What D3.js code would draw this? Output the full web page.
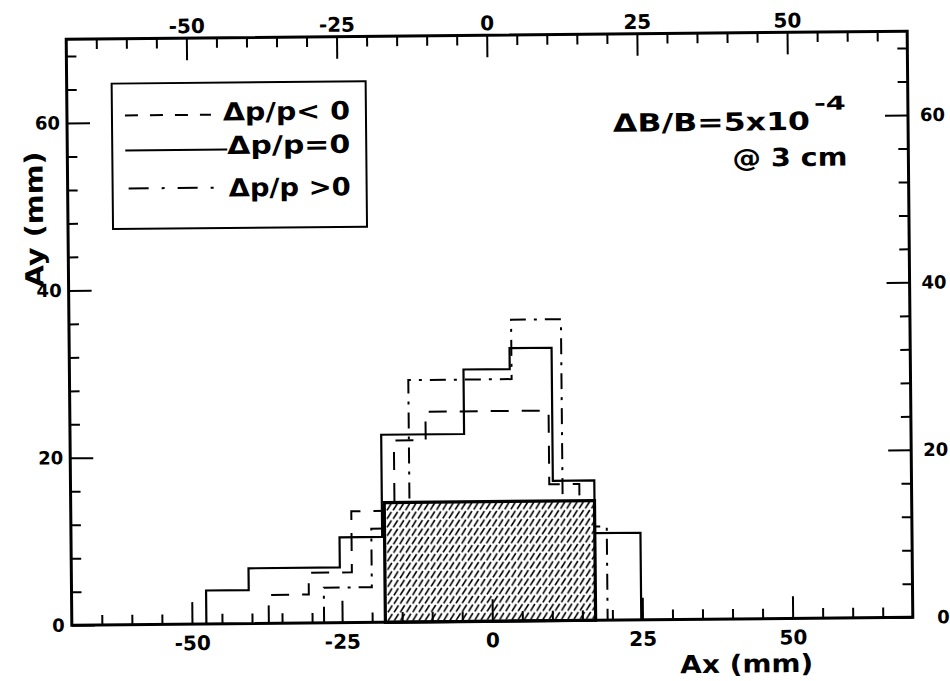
<!DOCTYPE html>
<html>
<head>
<meta charset="utf-8">
<script src="https://cdn.jsdelivr.net/npm/d3@7"></script>
<style>
  html, body { margin: 0; padding: 0; background: #fff; }
  svg { display: block; }
  text { font-family: "DejaVu Sans", "Liberation Sans", sans-serif; font-weight: bold; fill: #000; }
</style>
</head>
<body>
<svg id="chart" width="950" height="681"></svg>
<script>
// ---- data (Ax in mm, Ay in mm) ----
// step histograms: bin edges and the aperture height in each bin
const edgesZero = [-47.6, -40.5, -25.3, -18.2, -4.4, 3.3, 10.3, 17.2, 24.8];
const heightsZero = [4.0, 6.6, 10.2, 22.4, 30.1, 32.6, 16.7, 10.4];

const edgesNeg = [-37.2, -30.5, -23.3, -16.1, -10.8, 9.7, 14.7];
const heightsNeg = [3.4, 6.0, 13.3, 21.7, 25.1, 16.3];

const edgesPos = [-28.0, -20.0, -13.6, 3.6, 11.9, 19.2];
const heightsPos = [4.2, 11.2, 28.9, 36.0, 11.2];

// common (hatched) acceptance region
const commonX = [-17.8, 17.2];
const commonY = 14.3;

// axes
const xDomain = [-70, 70];
const yDomain = [0, 70];
const xMajor = [-50, -25, 0, 25, 50];
const yMajor = [0, 20, 40, 60];

// legend and note texts
const legendLabels = ["\u0394p/p< 0", "\u0394p/p=0", "\u0394p/p >0"];
const noteMain = "\u0394B/B=5x10";
const noteExp = "-4";
const noteSub = "@ 3 cm";

// ---- layout ----
const frame = { left: 69, right: 910, top: 35.25, bottom: 621.25 };
const svg = d3.select("#chart");

const x = d3.scaleLinear().domain(xDomain).range([frame.left, frame.right]);
const y = d3.scaleLinear().domain(yDomain).range([frame.bottom, frame.top]);

const defs = svg.append("defs");
const pat = defs.append("pattern")
  .attr("id", "hatch").attr("patternUnits", "userSpaceOnUse")
  .attr("width", 6.2).attr("height", 8.5);
pat.append("rect").attr("width", 6.2).attr("height", 8.5).attr("fill", "#fff");
pat.append("path").attr("d", "M0.8,7.9 L5.2,0.9")
  .attr("stroke", "#000").attr("stroke-width", 1.6).attr("fill", "none");

// the scanned sheet sits slightly tilted
const root = svg.append("g").attr("transform", "rotate(-0.55 489.5 328)");

const styles = {
  neg:  { width: 2, dash: "18,13" },
  zero: { width: 2.2, dash: null },
  pos:  { width: 2, dash: "16,8,3,8" }
};

function stepPoints(edges, heights) {
  const pts = [[edges[0], 0]];
  heights.forEach((h, i) => { pts.push([edges[i], h]); pts.push([edges[i + 1], h]); });
  pts.push([edges[edges.length - 1], 0]);
  return pts;
}
const line = d3.line().x(d => x(d[0])).y(d => y(d[1]));

const series = [
  { e: edgesNeg, h: heightsNeg, s: styles.neg },
  { e: edgesPos, h: heightsPos, s: styles.pos },
  { e: edgesZero, h: heightsZero, s: styles.zero }
];
root.append("g").selectAll("path").data(series).join("path")
  .attr("d", d => line(stepPoints(d.e, d.h)))
  .attr("fill", "none").attr("stroke", "#000")
  .attr("stroke-width", d => d.s.width)
  .attr("stroke-dasharray", d => d.s.dash)
  .attr("stroke-linejoin", "miter");

// hatched common region
root.append("rect")
  .attr("x", x(commonX[0])).attr("y", y(commonY))
  .attr("width", x(commonX[1]) - x(commonX[0]))
  .attr("height", y(0) - y(commonY))
  .attr("fill", "url(#hatch)").attr("stroke", "#000").attr("stroke-width", 3.2);

// ---- axes ----
const xMinor = d3.range(-65, 70, 5).filter(v => !xMajor.includes(v));
const yMinor = d3.range(4, 70, 4).filter(v => !yMajor.includes(v));
const plain = d => String(d);

function styleAxis(g) {
  g.select(".domain").remove();
  g.selectAll(".tick line").attr("stroke", "#000").attr("stroke-width", 2);
  g.selectAll("text").attr("font-family", null).style("font-size", null);
}

// bottom
root.append("g").attr("transform", `translate(0,${frame.bottom})`)
  .call(d3.axisBottom(x).tickValues(xMinor).tickSize(-10).tickFormat(""))
  .call(styleAxis);
const gB = root.append("g").attr("transform", `translate(0,${frame.bottom})`)
  .call(d3.axisBottom(x).tickValues(xMajor).tickSize(-22).tickFormat(plain))
  .call(styleAxis);
gB.selectAll("text").attr("y", 26).attr("dy", 0).style("font-size", "20px");

// top
root.append("g").attr("transform", `translate(0,${frame.top})`)
  .call(d3.axisTop(x).tickValues(xMinor).tickSize(-10).tickFormat(""))
  .call(styleAxis);
const gT = root.append("g").attr("transform", `translate(0,${frame.top})`)
  .call(d3.axisTop(x).tickValues(xMajor).tickSize(-22).tickFormat(plain))
  .call(styleAxis);
gT.selectAll("text").attr("y", -5).attr("dy", 0).style("font-size", "20px");

// left
root.append("g").attr("transform", `translate(${frame.left},0)`)
  .call(d3.axisLeft(y).tickValues(yMinor).tickSize(-10).tickFormat(""))
  .call(styleAxis);
const gL = root.append("g").attr("transform", `translate(${frame.left},0)`)
  .call(d3.axisLeft(y).tickValues(yMajor).tickSize(-23).tickPadding(7).tickFormat(plain))
  .call(styleAxis);
gL.selectAll("text").style("font-size", "18px");

// right
root.append("g").attr("transform", `translate(${frame.right},0)`)
  .call(d3.axisRight(y).tickValues(yMinor).tickSize(-10).tickFormat(""))
  .call(styleAxis);
const gR = root.append("g").attr("transform", `translate(${frame.right},0)`)
  .call(d3.axisRight(y).tickValues(yMajor).tickSize(-23).tickFormat(plain))
  .call(styleAxis);
gR.selectAll("text").attr("text-anchor", "end").attr("x", 37).style("font-size", "18px");

// frame
root.append("rect")
  .attr("x", frame.left).attr("y", frame.top)
  .attr("width", frame.right - frame.left).attr("height", frame.bottom - frame.top)
  .attr("fill", "none").attr("stroke", "#000").attr("stroke-width", 3);

// axis titles
root.append("text").attr("x", 677).attr("y", 675)
  .attr("textLength", 133).attr("lengthAdjust", "spacingAndGlyphs")
  .style("font-size", "25px").text("Ax (mm)");
root.append("text")
  .attr("transform", "translate(44,215) rotate(-90)")
  .attr("text-anchor", "middle")
  .attr("textLength", 136).attr("lengthAdjust", "spacingAndGlyphs")
  .style("font-size", "25px").text("Ay (mm)");

// ---- legend ----
const leg = root.append("g");
leg.append("rect").attr("x", 114).attr("y", 80).attr("width", 254).attr("height", 145.5)
  .attr("fill", "#fff").attr("stroke", "#000").attr("stroke-width", 2);
const legRows = [
  { y: 112, x0: 127, x1: 213, tx: 225, ty: 118, tl: 127, label: legendLabels[0], dash: "13,12" },
  { y: 147, x0: 127, x1: 229, tx: 229, ty: 151.5, tl: 123, label: legendLabels[1], dash: null },
  { y: 185, x0: 130, x1: 226, tx: 230, ty: 194, tl: 122, label: legendLabels[2], dash: "20,13,3,13" }
];
leg.selectAll("line").data(legRows).join("line")
  .attr("x1", d => d.x0).attr("x2", d => d.x1)
  .attr("y1", d => d.y).attr("y2", d => d.y)
  .attr("stroke", "#000").attr("stroke-width", 2)
  .attr("stroke-dasharray", d => d.dash);
leg.selectAll("text").data(legRows).join("text")
  .attr("x", d => d.tx).attr("y", d => d.ty)
  .attr("textLength", d => d.tl).attr("lengthAdjust", "spacingAndGlyphs")
  .style("font-size", "25px").text(d => d.label);

// ---- field error note ----
root.append("text").attr("x", 615).attr("y", 133)
  .attr("textLength", 197).attr("lengthAdjust", "spacingAndGlyphs")
  .style("font-size", "25px").text(noteMain);
root.append("text").attr("x", 816).attr("y", 113)
  .attr("textLength", 32).attr("lengthAdjust", "spacingAndGlyphs")
  .style("font-size", "19px").text(noteExp);
root.append("text").attr("x", 734).attr("y", 169)
  .attr("textLength", 115).attr("lengthAdjust", "spacingAndGlyphs")
  .style("font-size", "25px").text(noteSub);
</script>
</body>
</html>
